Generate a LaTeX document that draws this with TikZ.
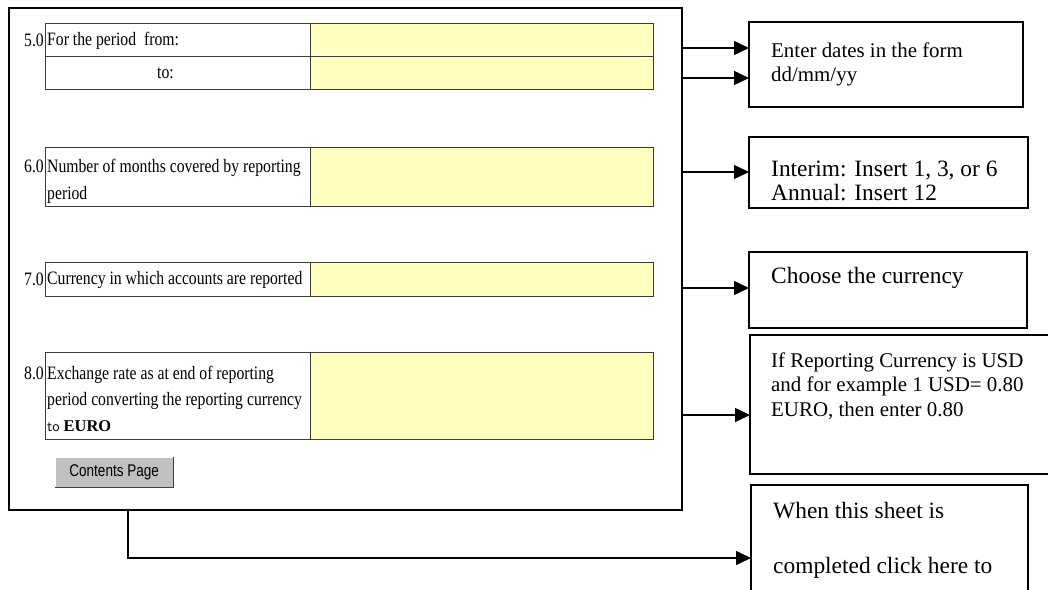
\documentclass[tikz,border=0pt]{standalone}
\usepackage{fontspec}
\setmainfont{Liberation Serif}
\newfontfamily\formfont[FakeStretch=0.83]{Liberation Serif}
\newfontfamily\buttonfont[FakeStretch=0.8]{Liberation Sans}
\usetikzlibrary{arrows.meta,positioning}
\definecolor{fieldyellow}{RGB}{255,255,192}
\definecolor{cellline}{RGB}{60,60,60}
\definecolor{buttongray}{RGB}{192,192,192}
\tikzset{
	sheetframe/.style = {draw, line width=2.5bp, anchor=north west, inner sep=0pt, outer sep=0pt},
	labelcell/.style  = {draw=cellline, line width=1bp, fill=white, anchor=north west, outer sep=0pt,
	                     inner sep=0pt, minimum width=265bp},
	labeltext/.style  = {anchor=west, inner xsep=2bp, inner ysep=0pt, align=left,
	                     font=\formfont\fontsize{19}{26.5}\selectfont},
	valuecell/.style  = {draw=cellline, line width=1bp, fill=fieldyellow, outer sep=0pt,
	                     minimum width=343bp, inner sep=0pt},
	rownum/.style     = {inner sep=1bp, font=\formfont\fontsize{19}{26.5}\selectfont},
	notebox/.style    = {draw, line width=1.5bp, anchor=north west, inner sep=0pt, outer sep=0pt},
	notetext/.style   = {anchor=north west, inner sep=0pt, align=left},
	pointer/.style    = {line width=1.5bp, -{Triangle[length=15bp,width=14bp]}},
	button/.style     = {fill=buttongray, anchor=north west, minimum width=118bp, minimum height=30bp,
	                     inner sep=0pt, font=\buttonfont\fontsize{17}{18}\selectfont}
}
\begin{document}
\begin{tikzpicture}[x=1bp, y=-1bp]

	\useasboundingbox (0,0) rectangle (1048,590);
	\clip (0,0) rectangle (1048,590);

	% the sheet
	\node [sheetframe, minimum width=673bp, minimum height=502bp] (sheet) at (9,8) {};

	\node [labelcell, minimum height=33bp] (fromlbl) at (45,24) {};
	\node [labelcell, minimum height=33bp, below=0pt of fromlbl] (tolbl) {};
	\node [labelcell, minimum height=59bp] (monthslbl) at (45,148) {};
	\node [labelcell, minimum height=33bp] (currlbl) at (45,263) {};
	\node [labelcell, minimum height=87bp] (ratelbl) at (45,352) {};

	\node [labeltext] at (fromlbl.west) {For the period\ \ from:};
	\node [labeltext] at ([xshift=110bp]tolbl.west) {to:};
	\node [labeltext, yshift=-4bp] at (monthslbl.west) {Number of months covered by reporting\\period};
	\node [labeltext] at (currlbl.west) {Currency in which accounts are reported};
	\node [labeltext, yshift=-3.5bp] at (ratelbl.west)
		{Exchange rate as at end of reporting\\period converting the reporting currency\\{\sffamily\fontsize{15}{26.5}\selectfont to} {\normalfont\bfseries\fontsize{16.5}{26.5}\selectfont EURO}};

	\node [valuecell, minimum height=33bp, right=0pt of fromlbl] (fromval) {};
	\node [valuecell, minimum height=33bp, right=0pt of tolbl] (toval) {};
	\node [valuecell, minimum height=59bp, right=0pt of monthslbl] (monthsval) {};
	\node [valuecell, minimum height=33bp, right=0pt of currlbl] (currval) {};
	\node [valuecell, minimum height=87bp, right=0pt of ratelbl] (rateval) {};

	\node [rownum, left=0pt of fromlbl] {5.0};
	\node [rownum, anchor=base east] at (monthslbl.west |- 0,173) {6.0};
	\node [rownum, left=0pt of currlbl] {7.0};
	\node [rownum, anchor=base east] at (ratelbl.west |- 0,379.5) {8.0};

	\node [button] (contents) at (55,457) {Contents Page};
	\draw [white, line width=1bp] (contents.south west) -- (contents.north west) -- (contents.north east);
	\draw [black!75, line width=1.5bp] (contents.south west) -- (contents.south east) -- (contents.north east);

	% the notes
	\node [notebox, minimum width=274bp, minimum height=85bp] (datesnote) at (749,22) {};
	\node [notebox, minimum width=279bp, minimum height=71bp] (monthsnote) at (749,137) {};
	\node [notebox, minimum width=278bp, minimum height=76bp] (currnote) at (749,252) {};
	\node [notebox, minimum width=320bp, minimum height=139bp] (ratenote) at (750,335) {};
	\node [notebox, minimum width=277bp, minimum height=130bp] (clicknote) at (751,485) {};

	\node [notetext, font=\fontsize{21}{24}\selectfont] at (771,42.7) {Enter dates in the form\\dd/mm/yy};
	\node [notetext, font=\fontsize{23.5}{24}\selectfont] at (771,160.8) {Interim: Insert 1, 3, or 6\\Annual: Insert 12};
	\node [notetext, font=\fontsize{23.5}{24}\selectfont] at (771,267) {Choose the currency};
	\node [notetext, font=\fontsize{21}{24.5}\selectfont] at (771,352.4)
		{If Reporting Currency is USD\\and for example 1 USD= 0.80\\EURO, then enter 0.80};
	\node [notetext, font=\fontsize{23.5}{55}\selectfont] at (773,502) {When this sheet is\\completed click here to};

	% connectors
	\foreach \y/\target in {48/datesnote, 78/datesnote, 172/monthsnote, 288/currnote, 415/ratenote}
		\draw [pointer] (sheet.east |- 0,\y) -- (\target.west |- 0,\y);

	\coordinate (elbow) at (128,558);
	\draw [pointer] (sheet.south -| elbow) |- (clicknote.west |- elbow);

\end{tikzpicture}
\end{document}
